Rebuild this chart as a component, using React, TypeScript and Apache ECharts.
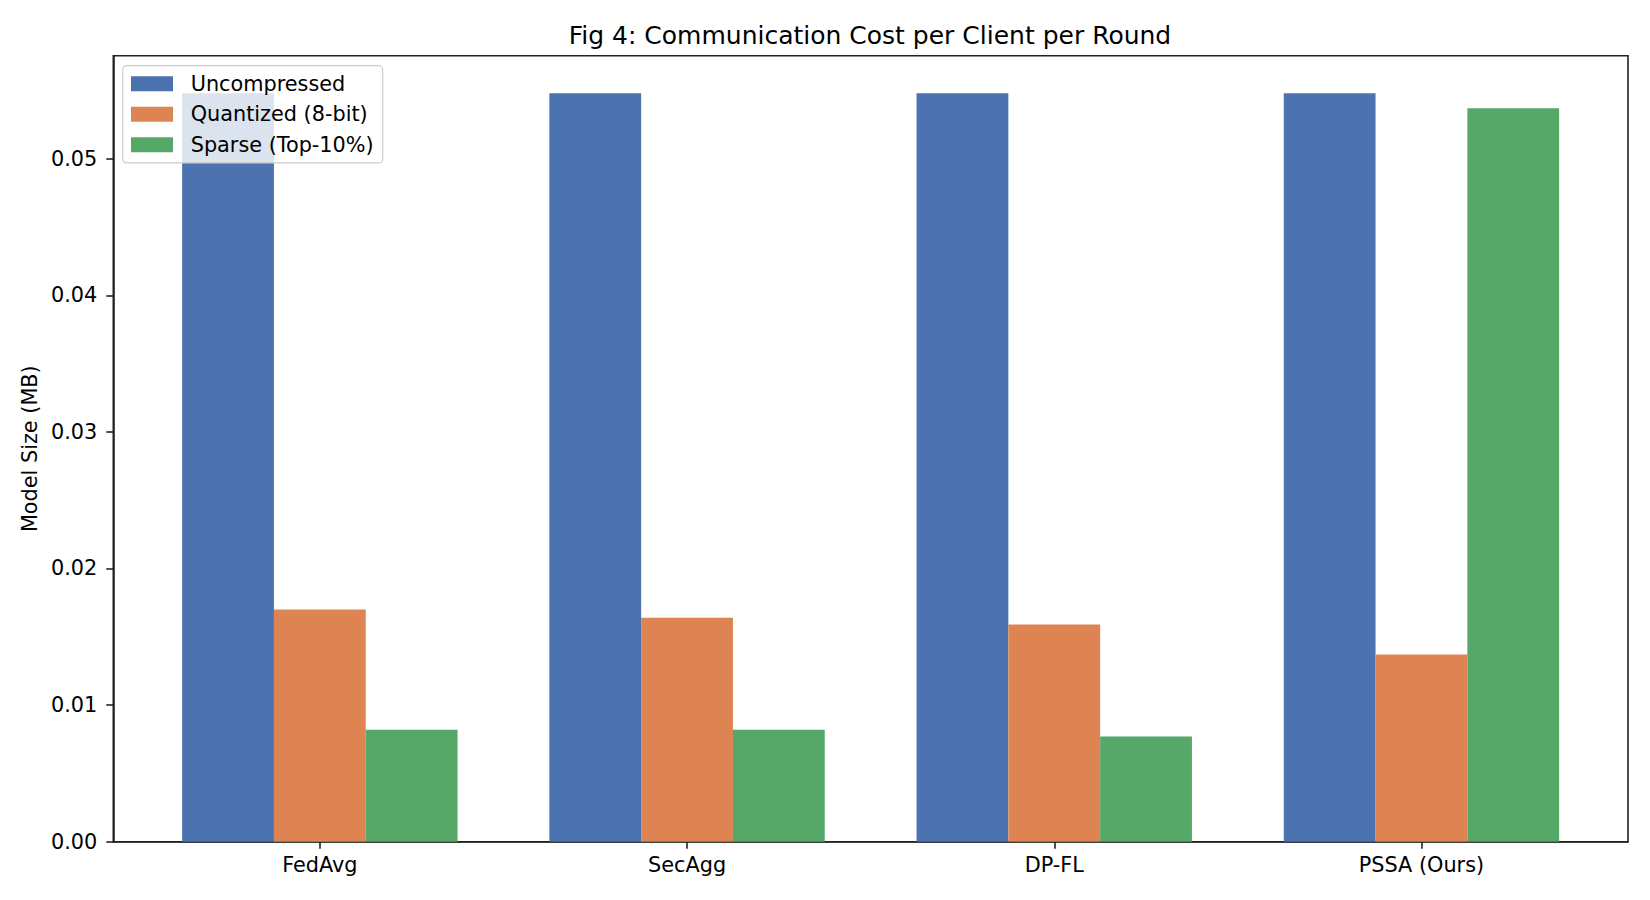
import React, { useEffect, useRef } from "react";
import * as echarts from "echarts";

const titleText = "Fig 4: Communication Cost per Client per Round";
const yAxisName = "Model Size (MB)";
const categories = ["FedAvg", "SecAgg", "DP-FL", "PSSA (Ours)"];
const seriesNames = ["Uncompressed", "Quantized (8-bit)", "Sparse (Top-10%)"];
const uncompressed = [0.0548, 0.0548, 0.0548, 0.0548];
const quantized = [0.017, 0.0164, 0.0159, 0.0137];
const sparse = [0.0082, 0.0082, 0.0077, 0.0537];
const yTicks = [0, 0.01, 0.02, 0.03, 0.04, 0.05];
const yMax = 0.05754;
const xMin = -0.5625;
const xMax = 3.5625;
const colors = ["#4C72B0", "#DD8452", "#55A868"];

const FONT = "DejaVu Sans";
const AXIS_COLOR = "#222222";

export default function App() {
  const ref = useRef<HTMLDivElement>(null);
  useEffect(() => {
    document.body.style.margin = "0";
    if (!ref.current) return;
    const chart = echarts.init(ref.current, null, { renderer: "svg" });
    const allSeries = [uncompressed, quantized, sparse];
    const xIdx = categories.map((_, i) => i);
    chart.setOption({
      animation: false,
      backgroundColor: "#ffffff",
      textStyle: { fontFamily: FONT },
      title: {
        text: titleText,
        left: 865,
        top: 18,
        textAlign: "center",
        textStyle: { fontFamily: FONT, fontSize: 25, fontWeight: "normal", color: "#000" },
      },
      legend: {
        orient: "vertical",
        left: 122.7,
        top: 65.7,
        data: seriesNames,
        icon: "rect",
        itemWidth: 42,
        itemHeight: 15,
        itemGap: 9.5,
        padding: [7.6, 9, 7.6, 8.3],
        backgroundColor: "rgba(255,255,255,0.8)",
        borderColor: "#cccccc",
        borderWidth: 1.2,
        borderRadius: 4,
        textStyle: {
          fontFamily: FONT,
          fontSize: 20.8,
          lineHeight: 21,
          color: "#000",
          padding: [0, 0, 0, 12.7],
        },
      },
      grid: {
        left: 113.3,
        right: 22,
        top: 55.7,
        bottom: 58.3,
        show: true,
        borderColor: AXIS_COLOR,
        borderWidth: 1.6,
        backgroundColor: "transparent",
        containLabel: false,
        outerBoundsMode: "none",
      },
      xAxis: {
        type: "value",
        min: xMin,
        max: xMax,
        splitLine: { show: false },
        axisLine: { show: true, onZero: false, lineStyle: { color: AXIS_COLOR, width: 1.6 } },
        axisTick: {
          show: true,
          customValues: xIdx,
          length: 7,
          lineStyle: { color: AXIS_COLOR, width: 1.6 },
        },
        axisLabel: {
          customValues: xIdx,
          formatter: (v: number) => categories[Math.round(v)] ?? "",
          margin: 13,
          fontFamily: FONT,
          fontSize: 20.8,
          color: "#000",
        },
      },
      yAxis: {
        type: "value",
        min: 0,
        max: yMax,
        name: yAxisName,
        nameLocation: "middle",
        nameGap: 71,
        nameTextStyle: { fontFamily: FONT, fontSize: 20.8, color: "#000" },
        splitLine: { show: false },
        axisLine: { show: true, onZero: false, lineStyle: { color: AXIS_COLOR, width: 1.6 } },
        axisTick: {
          show: true,
          customValues: yTicks,
          length: 7,
          lineStyle: { color: AXIS_COLOR, width: 1.6 },
        },
        axisLabel: {
          customValues: yTicks,
          formatter: (v: number) => v.toFixed(2),
          margin: 16,
          fontFamily: FONT,
          fontSize: 20.8,
          color: "#000",
        },
      },
      series: allSeries.map((vals, s) => ({
        type: "bar",
        name: seriesNames[s],
        data: vals.map((v, i) => [i, v]),
        barWidth: "25%",
        barGap: "0%",
        itemStyle: { color: colors[s] },
        z: 2,
      })),
    });
    return () => chart.dispose();
  }, []);
  return <div ref={ref} style={{ width: 1650, height: 900 }} />;
}
